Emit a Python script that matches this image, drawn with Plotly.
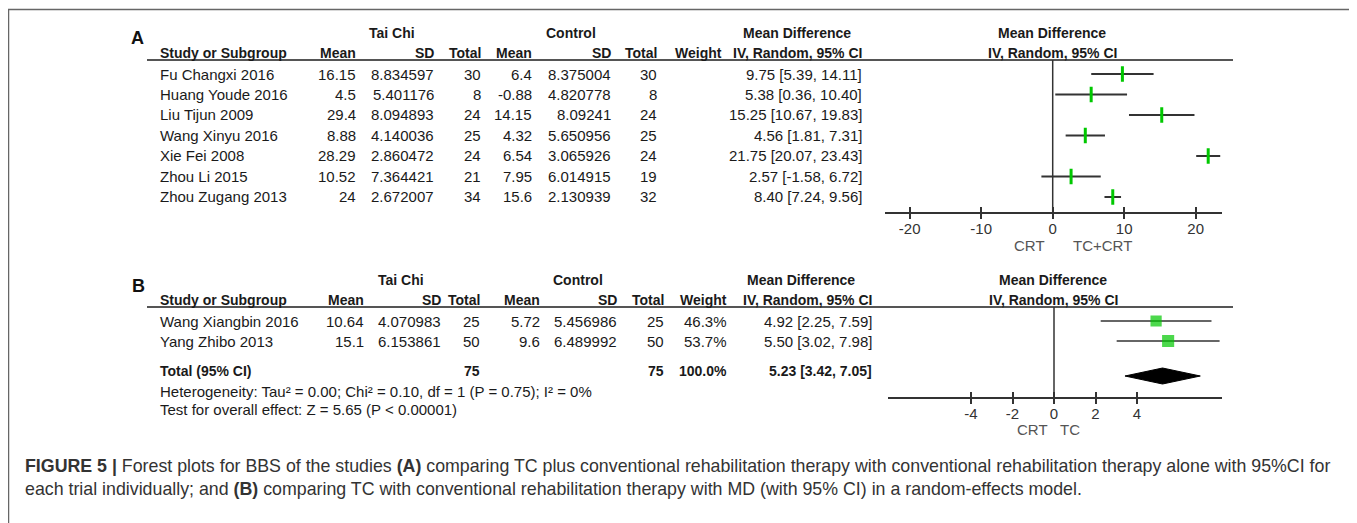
import plotly.graph_objects as go

# ---------------- data ----------------
# Panel A
studies_a = ["Fu Changxi 2016", "Huang Youde 2016", "Liu Tijun 2009", "Wang Xinyu 2016",
             "Xie Fei 2008", "Zhou Li 2015", "Zhou Zugang 2013"]
tc_mean_a = [16.15, 4.5, 29.4, 8.88, 28.29, 10.52, 24]
tc_sd_a = [8.834597, 5.401176, 8.094893, 4.140036, 2.860472, 7.364421, 2.672007]
tc_n_a = [30, 8, 24, 25, 24, 21, 34]
ct_mean_a = [6.4, -0.88, 14.15, 4.32, 6.54, 7.95, 15.6]
ct_sd_a = [8.375004, 4.820778, 8.09241, 5.650956, 3.065926, 6.014915, 2.130939]
ct_n_a = [30, 8, 24, 25, 24, 19, 32]
md_a = [9.75, 5.38, 15.25, 4.56, 21.75, 2.57, 8.40]
lo_a = [5.39, 0.36, 10.67, 1.81, 20.07, -1.58, 7.24]
hi_a = [14.11, 10.40, 19.83, 7.31, 23.43, 6.72, 9.56]
ticks_a = [-20, -10, 0, 10, 20]

# Panel B
studies_b = ["Wang Xiangbin 2016", "Yang Zhibo 2013"]
tc_mean_b = [10.64, 15.1]
tc_sd_b = [4.070983, 6.153861]
tc_n_b = [25, 50]
ct_mean_b = [5.72, 9.6]
ct_sd_b = [5.456986, 6.489992]
ct_n_b = [25, 50]
weight_b = [46.3, 53.7]
md_b = [4.92, 5.50]
lo_b = [2.25, 3.02]
hi_b = [7.59, 7.98]
total_tc_b = 75
total_ct_b = 75
total_weight_b = 100.0
total_md_b = 5.23
total_lo_b = 3.42
total_hi_b = 7.05
ticks_b = [-4, -2, 0, 2, 4]
heterogeneity_b = "Heterogeneity: Tau² = 0.00; Chi² = 0.10, df = 1 (P = 0.75); I² = 0%"
overall_b = "Test for overall effect: Z = 5.65 (P < 0.00001)"

caption_1 = ("<b>FIGURE 5 |</b> Forest plots for BBS of the studies <b>(A)</b> comparing TC plus conventional "
             "rehabilitation therapy with conventional rehabilitation therapy alone with 95%CI for")
caption_2 = ("each trial individually; and <b>(B)</b> comparing TC with conventional rehabilitation therapy "
             "with MD (with 95% CI) in a random-effects model.")

# ---------------- layout helpers ----------------
PAGE_OFF = 8                      # default body margin of the html page
W, H = 1357 - PAGE_OFF, 523 - PAGE_OFF
FONT = "Arial, Liberation Sans, sans-serif"
TXT = "#1a1a1a"
BODY = 15
HEAD = 14


def px(x):
    return (x - PAGE_OFF) / W


def py(y):
    return 1 - (y - PAGE_OFF) / H


annotations = []


def text(x, y, s, anchor="left", size=BODY, bold=False, color=TXT, family=FONT):
    annotations.append(dict(
        x=px(x), y=py(y), xref="paper", yref="paper", text=f"<b>{s}</b>" if bold else s,
        showarrow=False, xanchor=anchor, yanchor="middle", borderpad=0,
        font=dict(family=family, size=size, color=color)))


def ci(m, l, h):
    return f"{m:.2f} [{l:.2f}, {h:.2f}]"


shapes = []
HEADERS = [("mean", "Mean"), ("sd", "SD"), ("n", "Total"), ("cmean", "Mean"),
           ("csd", "SD"), ("cn", "Total"), ("w", "Weight"), ("ci", "IV, Random, 95% CI")]

# ---------------- Panel A table ----------------
rowA0, rowA_step = 74, 20.5
colsA = dict(mean=357, sd=435, n=482, cmean=533, csd=612, cn=658, w=723, ci=863)
text(137, 38, "A", anchor="center", size=18, bold=True, color="#111")
text(392, 33, "Tai Chi", anchor="center", size=HEAD, bold=True)
text(571, 33, "Control", anchor="center", size=HEAD, bold=True)
text(797, 33, "Mean Difference", anchor="center", size=HEAD, bold=True)
text(1052, 33, "Mean Difference", anchor="center", size=HEAD, bold=True)
hy = 53
text(159, hy, "Study or Subgroup", size=HEAD, bold=True)
for k, lab in HEADERS:
    text(colsA[k], hy, lab, anchor="right", size=HEAD, bold=True)
text(1052, hy, "IV, Random, 95% CI", anchor="center", size=HEAD, bold=True)
for i, s in enumerate(studies_a):
    y = rowA0 + i * rowA_step
    text(159, y, s)
    text(colsA["mean"], y, str(tc_mean_a[i]), anchor="right")
    text(colsA["sd"], y, str(tc_sd_a[i]), anchor="right")
    text(colsA["n"], y, str(tc_n_a[i]), anchor="right")
    text(colsA["cmean"], y, str(ct_mean_a[i]), anchor="right")
    text(colsA["csd"], y, str(ct_sd_a[i]), anchor="right")
    text(colsA["cn"], y, str(ct_n_a[i]), anchor="right")
    text(colsA["ci"], y, ci(md_a[i], lo_a[i], hi_a[i]), anchor="right")
shapes.append(dict(type="line", xref="paper", yref="paper", x0=px(147), x1=px(1233),
                   y0=py(60), y1=py(60), line=dict(color="#555", width=2)))
text(1030, 245, "CRT", anchor="center", color="#555")
text(1102, 245, "TC+CRT", anchor="center", color="#555")

# ---------------- Panel B table ----------------
rowB0, rowB_step = 321, 20
colsB = dict(mean=365, sd=442, n=481, cmean=541, csd=618, cn=665, w=728, ci=873)
text(138, 286, "B", anchor="center", size=18, bold=True, color="#111")
text(401, 280, "Tai Chi", anchor="center", size=HEAD, bold=True)
text(578, 280, "Control", anchor="center", size=HEAD, bold=True)
text(801, 280, "Mean Difference", anchor="center", size=HEAD, bold=True)
text(1053, 280, "Mean Difference", anchor="center", size=HEAD, bold=True)
hy = 300
text(159, hy, "Study or Subgroup", size=HEAD, bold=True)
for k, lab in HEADERS:
    text(colsB[k], hy, lab, anchor="right", size=HEAD, bold=True)
text(1053, hy, "IV, Random, 95% CI", anchor="center", size=HEAD, bold=True)
for i, s in enumerate(studies_b):
    y = rowB0 + i * rowB_step
    text(159, y, s)
    text(colsB["mean"], y, str(tc_mean_b[i]), anchor="right")
    text(colsB["sd"], y, str(tc_sd_b[i]), anchor="right")
    text(colsB["n"], y, str(tc_n_b[i]), anchor="right")
    text(colsB["cmean"], y, str(ct_mean_b[i]), anchor="right")
    text(colsB["csd"], y, str(ct_sd_b[i]), anchor="right")
    text(colsB["cn"], y, str(ct_n_b[i]), anchor="right")
    text(colsB["w"], y, f"{weight_b[i]:.1f}%", anchor="right")
    text(colsB["ci"], y, ci(md_b[i], lo_b[i], hi_b[i]), anchor="right")
ty = 371
text(159, ty, "Total (95% CI)", size=HEAD, bold=True)
text(colsB["n"], ty, str(total_tc_b), anchor="right", size=HEAD, bold=True)
text(colsB["cn"], ty, str(total_ct_b), anchor="right", size=HEAD, bold=True)
text(colsB["w"], ty, f"{total_weight_b:.1f}%", anchor="right", size=HEAD, bold=True)
text(colsB["ci"], ty, ci(total_md_b, total_lo_b, total_hi_b), anchor="right", size=HEAD, bold=True)
text(159, 391, heterogeneity_b)
text(159, 409, overall_b)
shapes.append(dict(type="line", xref="paper", yref="paper", x0=px(147), x1=px(1233),
                   y0=py(307), y1=py(307), line=dict(color="#555", width=2)))
text(1032, 429, "CRT", anchor="center", color="#555")
text(1070, 429, "TC", anchor="center", color="#555")

# caption
text(24, 466, caption_1, size=17.8, color="#333")
text(24, 489, caption_2, size=17.8, color="#333")

# border
shapes.append(dict(type="rect", xref="paper", yref="paper", x0=px(8.6), x1=px(1355),
                   y0=py(560), y1=py(9.5), line=dict(color="#666", width=1.3)))

# ---------------- forest plots ----------------
fig = go.Figure()
GREEN = "#00c800"
LINE = "#333333"

# Panel A CIs and markers
ya = list(range(len(studies_a)))
cx, cy = [], []
for i in ya:
    cx += [lo_a[i], hi_a[i], None]
    cy += [i, i, None]
fig.add_trace(go.Scatter(x=cx, y=cy, mode="lines", line=dict(color=LINE, width=2),
                         xaxis="x", yaxis="y", showlegend=False, hoverinfo="skip"))
fig.add_trace(go.Scatter(x=md_a, y=ya, mode="markers",
                         marker=dict(symbol="line-ns", size=11, line=dict(color=GREEN, width=3)),
                         xaxis="x", yaxis="y", showlegend=False))

# Panel B CIs, squares, diamond
yb = list(range(len(studies_b)))
cx, cy = [], []
for i in yb:
    cx += [lo_b[i], hi_b[i], None]
    cy += [i, i, None]
fig.add_trace(go.Scatter(x=cx, y=cy, mode="lines", line=dict(color=LINE, width=1.5),
                         xaxis="x2", yaxis="y2", showlegend=False, hoverinfo="skip"))
fig.add_trace(go.Scatter(x=md_b, y=yb, mode="markers",
                         marker=dict(symbol="square", size=[1.65 * w ** 0.5 for w in weight_b],
                                     color=GREEN, line=dict(width=0)),
                         xaxis="x2", yaxis="y2", showlegend=False))
dr, dh = 2.75, 0.4
fig.add_trace(go.Scatter(x=[total_lo_b, total_md_b, total_hi_b, total_md_b, total_lo_b],
                         y=[dr, dr - dh, dr, dr + dh, dr], mode="lines", fill="toself",
                         fillcolor="black", line=dict(color="black", width=1),
                         xaxis="x2", yaxis="y2", showlegend=False))

# zero lines
for xr, yr in [("x", "y"), ("x2", "y2")]:
    shapes.append(dict(type="line", xref=xr, yref=f"{yr} domain", x0=0, x1=0, y0=0, y1=1,
                       line=dict(color=LINE, width=1.5)))

domA = [px(885), px(1222)]
domB = [px(888), px(1222)]
rangeA = [(885 - 1052.7) / 7.15, (1222 - 1052.7) / 7.15]
rangeB = [(888 - 1054) / 20.75, (1222 - 1054) / 20.75]
tickfont = dict(family=FONT, size=15, color="#333")

axis_common = dict(showgrid=False, zeroline=False, fixedrange=True)
fig.update_layout(
    width=W, height=H, margin=dict(l=0, r=0, t=0, b=0),
    paper_bgcolor="white", plot_bgcolor="rgba(0,0,0,0)",
    showlegend=False,
    xaxis=dict(domain=domA, range=rangeA, anchor="y", showline=True, linecolor=LINE, linewidth=2,
               ticks="outside", ticklen=5, tickwidth=2, tickcolor=LINE, ticklabelstandoff=-3,
               tickvals=ticks_a, ticktext=[str(t) for t in ticks_a], tickfont=tickfont, **axis_common),
    xaxis3=dict(domain=domA, range=rangeA, anchor="y", overlaying="x", showline=False,
                ticks="inside", ticklen=5, tickwidth=2, tickcolor=LINE,
                tickvals=ticks_a, showticklabels=False, **axis_common),
    yaxis=dict(domain=[py(211.7), py(60)],
               range=[(211.7 - rowA0) / rowA_step, (60 - rowA0) / rowA_step],
               visible=False, **axis_common),
    xaxis2=dict(domain=domB, range=rangeB, anchor="y2", showline=True, linecolor=LINE, linewidth=2,
                ticks="outside", ticklen=5, tickwidth=2, tickcolor=LINE, ticklabelstandoff=-3,
                tickvals=ticks_b, ticktext=[str(t) for t in ticks_b], tickfont=tickfont, **axis_common),
    xaxis4=dict(domain=domB, range=rangeB, anchor="y2", overlaying="x2", showline=False,
                ticks="inside", ticklen=5, tickwidth=2, tickcolor=LINE,
                tickvals=ticks_b, showticklabels=False, **axis_common),
    yaxis2=dict(domain=[py(396.7), py(307)],
                range=[(396.7 - rowB0) / rowB_step, (307 - rowB0) / rowB_step],
                visible=False, **axis_common),
    annotations=annotations,
    shapes=shapes,
)
# dummy traces so the overlay axes are drawn
fig.add_trace(go.Scatter(x=[None], y=[None], xaxis="x3", yaxis="y", showlegend=False))
fig.add_trace(go.Scatter(x=[None], y=[None], xaxis="x4", yaxis="y2", showlegend=False))

fig.write_html("out.html")
